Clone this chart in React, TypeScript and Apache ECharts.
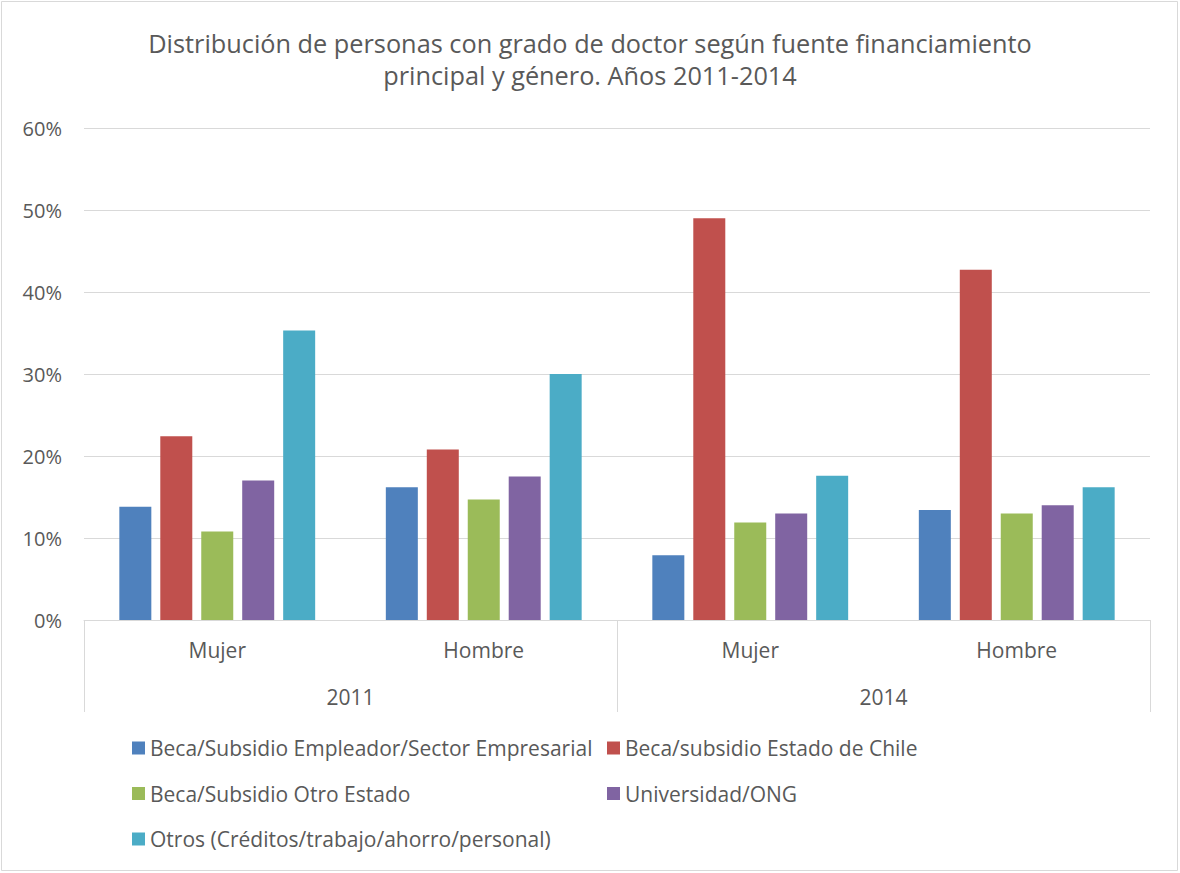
import React, { useEffect, useRef } from "react";
import * as echarts from "echarts";

const genders = ["Mujer", "Hombre", "Mujer", "Hombre"];
const years = ["2011", "2014"];
const yTicks = [0, 0.1, 0.2, 0.3, 0.4, 0.5, 0.6];

const seriesNames = [
  "Beca/Subsidio Empleador/Sector Empresarial",
  "Beca/subsidio Estado de Chile",
  "Beca/Subsidio Otro Estado",
  "Universidad/ONG",
  "Otros (Créditos/trabajo/ahorro/personal)",
];
const empleador = [0.138, 0.162, 0.079, 0.134];
const estadoChile = [0.224, 0.208, 0.49, 0.427];
const otroEstado = [0.108, 0.147, 0.119, 0.13];
const universidad = [0.17, 0.175, 0.13, 0.14];
const otros = [0.353, 0.3, 0.176, 0.162];
const colors = ["#4F81BD", "#C0504D", "#9BBB59", "#8064A2", "#4BACC6"];

const FONT = "'Open Sans', sans-serif";
const TXT = "#595959";

export default function App() {
  const ref = useRef<HTMLDivElement>(null);
  useEffect(() => {
    if (!ref.current) return;
    const chart = echarts.init(ref.current, undefined, { renderer: "svg" });
    const values = [empleador, estadoChile, otroEstado, universidad, otros];
    const legendText = { fontFamily: FONT, fontSize: 21, color: TXT, lineHeight: 22 };
    chart.setOption({
      animation: false,
      backgroundColor: "#fff",
      color: colors,
      textStyle: { fontFamily: FONT },
      title: {
        text: "Distribución de personas con grado de doctor según fuente financiamiento\nprincipal y género. Años 2011-2014",
        left: 585,
        top: 22,
        textAlign: "center",
        textStyle: {
          fontFamily: FONT,
          fontSize: 25.3,
          fontWeight: "normal",
          color: TXT,
          lineHeight: 32,
        },
      },
      graphic: [
        {
          type: "rect",
          shape: { x: 1.5, y: 1.5, width: 1176, height: 869 },
          style: { fill: "none", stroke: "#d9d9d9", lineWidth: 1 },
          silent: true,
        },
      ],
      legend: [
        {
          data: [seriesNames[0], seriesNames[2], seriesNames[4]],
          orient: "vertical",
          left: 127,
          top: 732,
          itemWidth: 13,
          itemHeight: 13,
          itemGap: 23.5,
          icon: "rect",
          textStyle: legendText,
        },
        {
          data: [seriesNames[1], seriesNames[3]],
          orient: "vertical",
          left: 602,
          top: 732,
          itemWidth: 13,
          itemHeight: 13,
          itemGap: 23.5,
          icon: "rect",
          textStyle: legendText,
        },
      ],
      grid: { left: 84, right: 30, top: 128, bottom: 253, containLabel: false },
      xAxis: [
        {
          type: "category",
          data: genders,
          position: "bottom",
          axisLine: { show: true, lineStyle: { color: "#d9d9d9", width: 1 } },
          axisTick: { show: false },
          axisLabel: { fontFamily: FONT, fontSize: 21, color: TXT, margin: 19 },
        },
        {
          type: "category",
          data: years,
          position: "bottom",
          axisLine: { show: false },
          axisTick: { show: true, length: 92, lineStyle: { color: "#d9d9d9", width: 1 } },
          axisLabel: { fontFamily: FONT, fontSize: 21, color: TXT, margin: 66 },
        },
      ],
      yAxis: {
        type: "value",
        min: yTicks[0],
        max: yTicks[yTicks.length - 1],
        interval: 0.1,
        axisLine: { show: false },
        axisTick: { show: false },
        splitLine: { lineStyle: { color: "#d9d9d9", width: 1 } },
        axisLabel: {
          fontFamily: FONT,
          fontSize: 20,
          color: TXT,
          margin: 22,
          formatter: (v: number) => Math.round(v * 100) + "%",
        },
      },
      series: seriesNames.map((name, i) => ({
        name,
        type: "bar",
        xAxisIndex: 0,
        data: values[i],
        barWidth: 32,
        barGap: "28%",
        itemStyle: { color: colors[i] },
      })),
    });
    return () => chart.dispose();
  }, []);
  return (
    <div
      ref={ref}
      style={{ position: "fixed", left: 0, top: 0, width: 1180, height: 873 }}
    />
  );
}
